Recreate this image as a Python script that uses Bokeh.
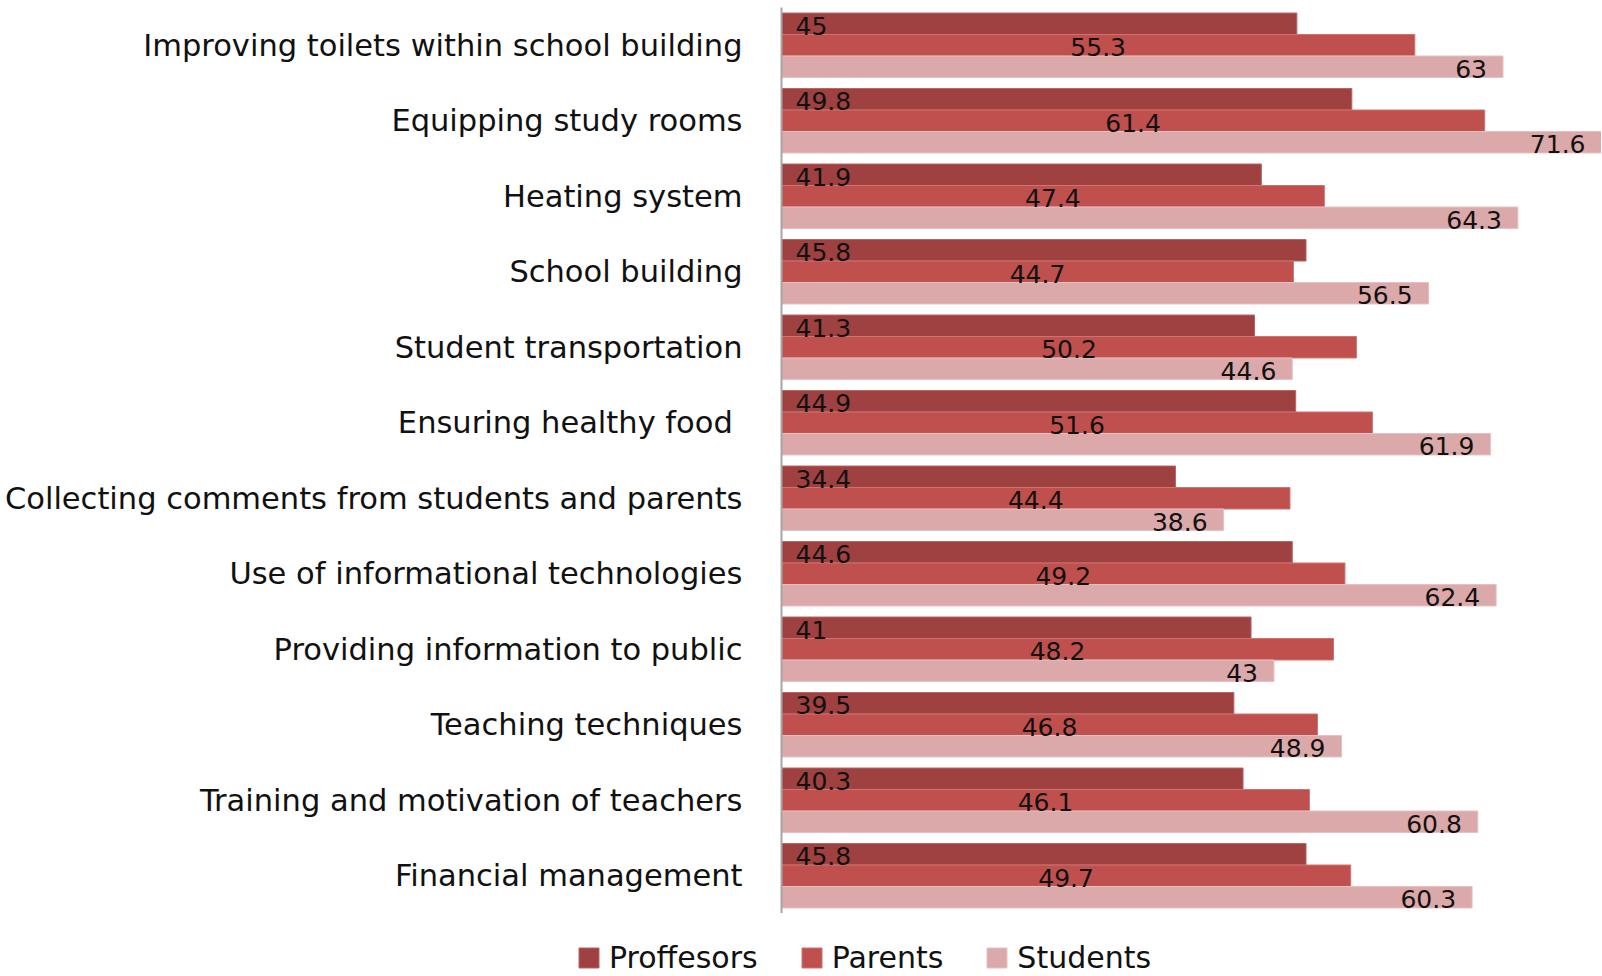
from bokeh.plotting import figure
from bokeh.layouts import column
from bokeh.models import FactorRange, Range1d, Legend, LegendItem, ColumnDataSource
from bokeh.transform import dodge
from bokeh.core.properties import value
from bokeh.embed import file_html
from bokeh.resources import INLINE

categories = [
    "Improving toilets within school building",
    "Equipping study rooms",
    "Heating system",
    "School building",
    "Student transportation",
    "Ensuring healthy food ",
    "Collecting comments from students and parents",
    "Use of informational technologies",
    "Providing information to public",
    "Teaching techniques",
    "Training and motivation of teachers",
    "Financial management",
]
professors = [45, 49.8, 41.9, 45.8, 41.3, 44.9, 34.4, 44.6, 41, 39.5, 40.3, 45.8]
parents = [55.3, 61.4, 47.4, 44.7, 50.2, 51.6, 44.4, 49.2, 48.2, 46.8, 46.1, 49.7]
students = [63, 71.6, 64.3, 56.5, 44.6, 61.9, 38.6, 62.4, 43, 48.9, 60.8, 60.3]
series_names = ["Proffesors", "Parents", "Students"]
colors = ["#9e4140", "#c0504d", "#dba9a9"]
edge_colors = ["#b56564", "#cf7370", "#e6c1c1"]

FONT = "DejaVu Sans"
H = 0.2845
W = 1601

src = ColumnDataSource(dict(
    cat=categories,
    prof=professors,
    par=parents,
    stu=students,
    prof_lbl=[f"{v:g}" for v in professors],
    par_lbl=[f"{v:g}" for v in parents],
    stu_lbl=[f"{v:g}" for v in students],
    par_half=[v / 2 for v in parents],
    zero=[0] * len(categories),
))

p = figure(
    width=W, height=913,
    y_range=FactorRange(factors=categories[::-1]),
    x_range=Range1d(0, 71.6),
    output_backend="svg", toolbar_location=None,
    min_border_left=781, min_border_right=0, min_border_top=7, min_border_bottom=0,
)
p.outline_line_color = None
p.xgrid.visible = False
p.ygrid.visible = False
p.xaxis.visible = False

offsets = [H, 0, -H]
fields = ["prof", "par", "stu"]
for f, off, c, ec in zip(fields, offsets, colors, edge_colors):
    p.hbar(y=dodge("cat", off, range=p.y_range), left=0, right=f, height=H,
           source=src, fill_color=c, line_color=ec, line_width=1)

txt = dict(text_font=value(FONT), text_font_size="25px", text_color="#111111",
           text_baseline="middle", source=src)
p.text(x="zero", y=dodge("cat", H, range=p.y_range), text="prof_lbl",
       text_align="left", x_offset=14, y_offset=2, **txt)
p.text(x="par_half", y=dodge("cat", 0, range=p.y_range), text="par_lbl",
       text_align="center", y_offset=2, **txt)
p.text(x="stu", y=dodge("cat", -H, range=p.y_range), text="stu_lbl",
       text_align="right", x_offset=-16, y_offset=2, **txt)

ax = p.yaxis[0]
ax.major_tick_out = 0
ax.major_tick_in = 0
ax.minor_tick_out = 0
ax.axis_line_color = "#a6a6a6"
ax.axis_line_width = 2
ax.major_label_standoff = 39
ax.major_label_text_font = FONT
ax.major_label_text_font_size = "30.5px"
ax.major_label_text_color = "#111111"

# legend strip below the chart (its own frame, not aligned with the chart's)
lg = figure(
    width=W, height=62, x_range=Range1d(0, 1), y_range=Range1d(0, 1),
    output_backend="svg", toolbar_location=None,
    x_axis_type=None, y_axis_type=None,
    min_border_left=0, min_border_right=0, min_border_top=0, min_border_bottom=0,
)
lg.frame_align = False
lg.outline_line_color = None
lg.xgrid.visible = False
lg.ygrid.visible = False
swatches = []
for c, ec in zip(colors, edge_colors):
    swatches.append(lg.hbar(y=[0], left=[0], right=[0], height=0,
                            fill_color=c, line_color=ec, line_width=1))

legend = Legend(
    items=[LegendItem(label=n, renderers=[r]) for n, r in zip(series_names, swatches)],
    orientation="horizontal",
    location=(576, 0),
    glyph_width=25, glyph_height=25,
    label_standoff=8, spacing=41, padding=0, margin=0,
    label_text_font=FONT, label_text_font_size="30px", label_text_color="#111111",
    border_line_color=None, background_fill_alpha=0,
)
lg.add_layout(legend, "center")

layout = column(p, lg, spacing=0)
open("out.html", "w").write(file_html(layout, INLINE))
